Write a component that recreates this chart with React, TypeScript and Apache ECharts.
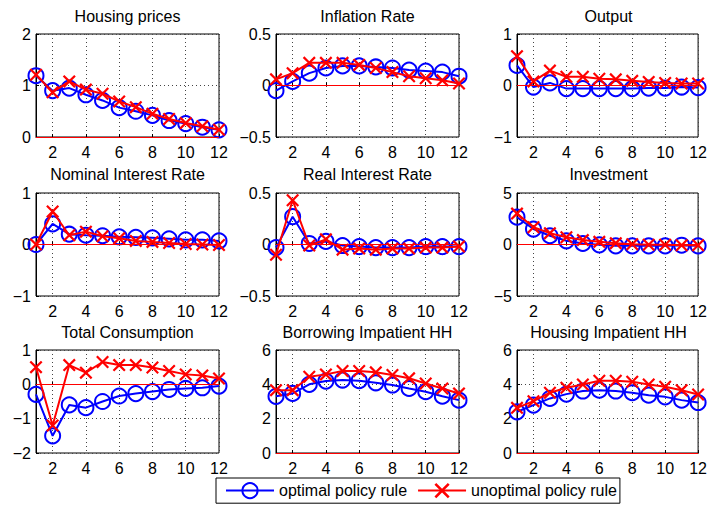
import React, { useEffect, useRef } from 'react';
import * as echarts from 'echarts';

const periods = ['1', '2', '3', '4', '5', '6', '7', '8', '9', '10', '11', '12'];

const titles = [
  'Housing prices', 'Inflation Rate', 'Output',
  'Nominal Interest Rate', 'Real Interest Rate', 'Investment',
  'Total Consumption', 'Borrowing Impatient HH', 'Housing Impatient HH',
];
const yMins = [0, -0.5, -1, -1, -0.5, -5, -2, 0, 0];
const yMaxs = [2, 0.5, 1, 1, 0.5, 5, 1, 6, 6];
const yIntervals = [1, 0.5, 1, 1, 0.5, 5, 1, 2, 2];

const optHousingPrices = [1.19, 0.9, 0.95, 0.82, 0.71, 0.57, 0.5, 0.42, 0.32, 0.26, 0.19, 0.14];
const unoptHousingPrices = [1.21, 0.87, 1.08, 0.92, 0.84, 0.69, 0.58, 0.45, 0.35, 0.27, 0.21, 0.14];
const optInflation = [-0.05, 0.04, 0.12, 0.17, 0.19, 0.19, 0.18, 0.17, 0.15, 0.14, 0.13, 0.09];
const unoptInflation = [0.06, 0.12, 0.22, 0.22, 0.22, 0.2, 0.17, 0.13, 0.09, 0.07, 0.05, 0.02];
const optOutput = [0.39, -0.03, 0.05, -0.06, -0.06, -0.06, -0.06, -0.06, -0.05, -0.05, -0.03, -0.04];
const unoptOutput = [0.57, 0.08, 0.29, 0.17, 0.17, 0.13, 0.12, 0.09, 0.07, 0.05, 0.04, 0.04];
const optNominalRate = [0, 0.4, 0.2, 0.18, 0.17, 0.15, 0.14, 0.13, 0.11, 0.09, 0.09, 0.07];
const unoptNominalRate = [0, 0.64, 0.18, 0.25, 0.16, 0.12, 0.07, 0.05, 0.03, 0.01, 0, -0.01];
const optRealRate = [-0.03, 0.27, 0.01, 0.03, -0.01, -0.02, -0.03, -0.03, -0.03, -0.02, -0.02, -0.02];
const unoptRealRate = [-0.1, 0.43, -0.01, 0.05, -0.05, -0.04, -0.05, -0.04, -0.04, -0.03, -0.03, -0.02];
const optInvestment = [2.65, 1.5, 0.85, 0.36, 0.1, -0.03, -0.13, -0.13, -0.13, -0.13, -0.07, -0.13];
const unoptInvestment = [3.0, 1.67, 1.1, 0.7, 0.43, 0.26, 0.13, 0.03, -0.03, -0.03, -0.07, -0.07];
const optConsumption = [-0.29, -1.5, -0.6, -0.68, -0.5, -0.34, -0.27, -0.21, -0.15, -0.12, -0.1, -0.05];
const unoptConsumption = [0.5, -1.2, 0.56, 0.34, 0.65, 0.56, 0.56, 0.49, 0.39, 0.29, 0.26, 0.17];
const optBorrowing = [3.3, 3.47, 4.0, 4.19, 4.25, 4.21, 4.09, 3.96, 3.76, 3.57, 3.31, 3.08];
const unoptBorrowing = [3.66, 3.66, 4.44, 4.58, 4.78, 4.78, 4.7, 4.54, 4.35, 4.05, 3.76, 3.47];
const optHousingHH = [2.4, 2.79, 3.18, 3.43, 3.61, 3.66, 3.61, 3.51, 3.37, 3.27, 3.08, 2.94];
const unoptHousingHH = [2.63, 3.02, 3.51, 3.8, 3.99, 4.21, 4.21, 4.15, 3.99, 3.86, 3.66, 3.41];

const optimalData = [optHousingPrices, optInflation, optOutput, optNominalRate, optRealRate, optInvestment, optConsumption, optBorrowing, optHousingHH];
const unoptimalData = [unoptHousingPrices, unoptInflation, unoptOutput, unoptNominalRate, unoptRealRate, unoptInvestment, unoptConsumption, unoptBorrowing, unoptHousingHH];

const legendNames = ['optimal policy rule', 'unoptimal policy rule'];

const FONT = "'Liberation Sans', Arial, Helvetica, sans-serif";
const BLUE = '#0000ff';
const RED = '#ff0000';
const X_SYMBOL = 'path://M0,1.2L1.2,0L5,3.8L8.8,0L10,1.2L6.2,5L10,8.8L8.8,10L5,6.2L1.2,10L0,8.8L3.8,5Z';

const colLefts = [36, 276, 517];
const rowTops = [34, 193, 350];
const titleTops = [8, 166, 324];
const PW = 183;
const PH = 103;

const fmtY = (v: number) => (v < 0 ? '\u2212' + String(Math.abs(v)) : String(v));
const evenIdx = (i: number) => (i + 1) % 2 === 0;

export default function App() {
  const ref = useRef<HTMLDivElement>(null);
  useEffect(() => {
    if (!ref.current) return;
    const chart = echarts.init(ref.current, null, { renderer: 'svg' });
    const grids: any[] = [];
    const xAxes: any[] = [];
    const yAxes: any[] = [];
    const series: any[] = [];
    const title: any[] = [];
    for (let i = 0; i < 9; i++) {
      const r = Math.floor(i / 3);
      const c = i % 3;
      grids.push({
        left: colLefts[c], top: rowTops[r], width: PW, height: PH,
        show: true, borderColor: '#000', borderWidth: 1, backgroundColor: 'transparent',
      });
      title.push({
        text: titles[i],
        left: colLefts[c] + PW / 2,
        top: titleTops[r],
        textAlign: 'center',
        padding: 0,
        textStyle: { fontFamily: FONT, fontSize: 16, fontWeight: 'normal', color: '#000' },
      });
      xAxes.push({
        type: 'category', gridIndex: i, data: periods, boundaryGap: false,
        axisLine: { show: true, lineStyle: { color: '#000', width: 1 } },
        axisTick: { show: true, inside: true, length: 3, interval: evenIdx, lineStyle: { color: '#000' } },
        axisLabel: { interval: evenIdx, color: '#000', fontFamily: FONT, fontSize: 16, margin: 7 },
        splitLine: { show: true, interval: evenIdx, lineStyle: { color: '#444', type: [1, 3], width: 1 } },
      });
      yAxes.push({
        type: 'value', gridIndex: i, min: yMins[i], max: yMaxs[i], interval: yIntervals[i],
        axisLine: { show: true, lineStyle: { color: '#000', width: 1 } },
        axisTick: { show: true, inside: true, length: 3, lineStyle: { color: '#000' } },
        axisLabel: { color: '#000', fontFamily: FONT, fontSize: 16, margin: 5, formatter: fmtY },
        splitLine: { show: true, lineStyle: { color: '#444', type: [1, 3], width: 1 } },
      });
      series.push({
        name: legendNames[0], type: 'line', xAxisIndex: i, yAxisIndex: i,
        data: optimalData[i], symbol: 'circle', symbolSize: 15, showAllSymbol: true,
        lineStyle: { color: BLUE, width: 2 },
        itemStyle: { color: 'transparent', borderColor: BLUE, borderWidth: 2 },
        emphasis: { disabled: true }, silent: true, z: 2,
      });
      series.push({
        name: legendNames[1], type: 'line', xAxisIndex: i, yAxisIndex: i,
        data: unoptimalData[i], symbol: X_SYMBOL, symbolSize: 13, showAllSymbol: true,
        lineStyle: { color: RED, width: 2 },
        itemStyle: { color: RED, borderWidth: 0 },
        emphasis: { disabled: true }, silent: true, z: 3,
        markLine: {
          silent: true, symbol: ['none', 'none'], label: { show: false },
          lineStyle: { color: RED, width: 1, type: 'solid' },
          emphasis: { disabled: true },
          data: [{ yAxis: 0 }],
        },
      });
    }
    chart.setOption({
      animation: false,
      backgroundColor: '#fff',
      title,
      grid: grids,
      xAxis: xAxes,
      yAxis: yAxes,
      series,
      legend: {
        data: legendNames,
        left: 216, top: 478,
        padding: [4, 3, 4, 9],
        itemGap: 10, itemWidth: 48, itemHeight: 19,
        borderColor: '#000', borderWidth: 1, backgroundColor: '#fff',
        selectedMode: false,
        textStyle: { fontFamily: FONT, fontSize: 16, color: '#000', padding: [0, 0, 0, 0] },
      },
    });
    return () => chart.dispose();
  }, []);
  return <div ref={ref} style={{ position: 'fixed', left: 0, top: 0, width: 710, height: 507 }} />;
}
